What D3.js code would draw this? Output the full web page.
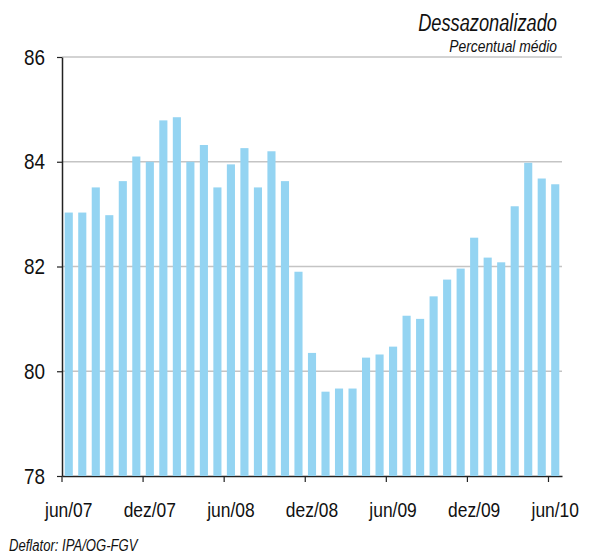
<!DOCTYPE html>
<html>
<head>
<meta charset="utf-8">
<script src="https://cdn.jsdelivr.net/npm/d3@7.9.0/dist/d3.min.js"></script>
<style>
  body { margin: 0; background: #fff; }
  svg { display: block; font-family: "Liberation Sans", Arial, sans-serif; }
</style>
</head>
<body>
<svg id="chart" width="596" height="555"></svg>
<script>
const months = ['jun','jul','ago','set','out','nov','dez','jan','fev','mar','abr','mai'];
// jun/07 .. jun/10, one bar per month
const periods = d3.range(37).map(i => {
  const m = months[i % 12];
  const yr = 7 + Math.floor((i + 5) / 12);
  return m + '/' + String(yr).padStart(2, '0');
});
const values = [
  83.03, 83.03, 83.51, 82.98, 83.63, 84.10, 84.00, 84.79, 84.85, 84.00,
  84.32, 83.51, 83.95, 84.26, 83.51, 84.20, 83.63, 81.90, 80.35, 79.61,
  79.67, 79.67, 80.26, 80.32, 80.47, 81.06, 81.00, 81.43, 81.75, 81.96,
  82.55, 82.17, 82.08, 83.15, 83.98, 83.68, 83.57
];
const yTicks = [78, 80, 82, 84, 86];
const xLabels = ['jun/07', 'dez/07', 'jun/08', 'dez/08', 'jun/09', 'dez/09', 'jun/10'];

const svg = d3.select('#chart');
const plot = { left: 62, right: 562, top: 57, bottom: 476 };

// squeeze text horizontally around its anchor point (condensed look)
function condense(sel, f) {
  sel.each(function () {
    const t = d3.select(this);
    const x0 = +(t.attr('x') || 0);
    t.attr('x', x0 / f).attr('transform', `scale(${f},1)`);
  });
}

const x = d3.scaleBand().domain(periods).range([plot.left, plot.right])
  .paddingInner(0.4).paddingOuter(0.2);
const y = d3.scaleLinear().domain([78, 86]).range([plot.bottom, plot.top]);

// gridlines
svg.append('g')
  .selectAll('line')
  .data(yTicks.filter(d => d > 78))
  .join('line')
  .attr('x1', plot.left).attr('x2', plot.right)
  .attr('y1', d => y(d)).attr('y2', d => y(d))
  .attr('stroke', '#c4c4c4')
  .attr('stroke-width', 1.6);

// x axis
const xAxis = svg.append('g')
  .attr('transform', `translate(0,${plot.bottom})`)
  .call(d3.axisBottom(x).tickValues(xLabels).tickSize(6).tickPadding(20).tickSizeOuter(0));
xAxis.attr('font-family', null).attr('font-size', null);
xAxis.select('.domain').attr('stroke', '#222').attr('stroke-width', 1.5);
xAxis.selectAll('.tick line')
  .attr('stroke', '#222').attr('stroke-width', 1.2)
  .attr('transform', `translate(${-x.step() * 0.2 - x.bandwidth() / 2},0)`);
xAxis.selectAll('.tick text')
  .attr('fill', '#111').style('font-size', '21px')
  .call(condense, 0.83);

// bars
svg.append('g')
  .selectAll('rect')
  .data(values)
  .join('rect')
  .attr('x', (d, i) => x(periods[i]))
  .attr('width', x.bandwidth())
  .attr('y', d => y(d))
  .attr('height', d => y(78) - y(d))
  .attr('fill', '#94d4f2');

// y axis
const yAxis = svg.append('g')
  .attr('transform', `translate(${plot.left},0)`)
  .call(d3.axisLeft(y).tickValues(yTicks).tickSize(5).tickPadding(12).tickSizeOuter(0));
yAxis.attr('font-family', null).attr('font-size', null);
yAxis.select('.domain').attr('stroke', '#222').attr('stroke-width', 1.5);
yAxis.selectAll('.tick line').attr('stroke', '#222').attr('stroke-width', 1.2);
yAxis.selectAll('.tick text')
  .attr('fill', '#111').style('font-size', '22px')
  .call(condense, 0.86);

// titles
svg.append('text')
  .attr('x', 557).attr('y', 31)
  .attr('text-anchor', 'end')
  .style('font-size', '24px').style('font-style', 'italic')
  .attr('fill', '#111')
  .text('Dessazonalizado')
  .call(condense, 0.76);

svg.append('text')
  .attr('x', 557).attr('y', 52.5)
  .attr('text-anchor', 'end')
  .style('font-size', '16.5px').style('font-style', 'italic')
  .attr('fill', '#111')
  .text('Percentual médio')
  .call(condense, 0.84);

svg.append('text')
  .attr('x', 9).attr('y', 551)
  .style('font-size', '17px').style('font-style', 'italic')
  .attr('fill', '#111')
  .text('Deflator: IPA/OG-FGV')
  .call(condense, 0.77);
</script>
</body>
</html>
